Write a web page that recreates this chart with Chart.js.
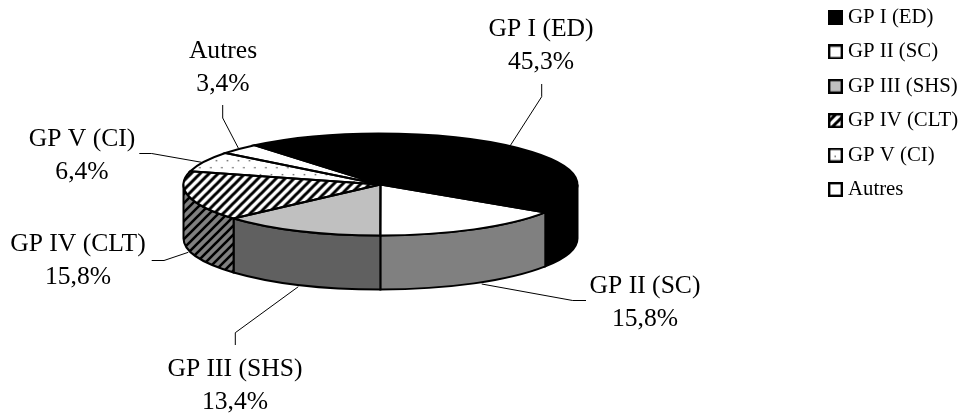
<!DOCTYPE html>
<html>
<head>
<meta charset="utf-8">
<style>
html, body { margin: 0; padding: 0; background: #fff; }
canvas { display: block; }
</style>
<script src="https://cdn.jsdelivr.net/npm/chart.js@4/dist/chart.umd.min.js"></script>
</head>
<body>
<canvas id="pieChart" width="964" height="414"></canvas>
<script>
var categories = ['GP I (ED)', 'GP II (SC)', 'GP III (SHS)', 'GP IV (CLT)', 'GP V (CI)', 'Autres'];
var shares = [45.3, 15.8, 13.4, 15.8, 6.4, 3.4];

// label centres and leader lines
var labelCentres = [[541, 29], [645, 286], [235, 369], [78, 244], [82, 139], [223, 51]];
var leaders = [
    [[541.7, 84], [541.7, 96.7], [510, 146]],
    [[586, 300.5], [572.7, 300.5], [481.7, 284]],
    [[235.3, 345], [235.3, 332.7], [298.3, 286.7]],
    [[151.7, 260.5], [164, 260.5], [188.3, 252.3]],
    [[139.3, 153.5], [151.7, 153.5], [201.7, 162.3]],
    [[222.7, 105], [222.7, 118], [238.3, 148]]
];

const PIE_X = 380.5, PIE_Y = 184.5, PIE_RX = 197, PIE_RY = 51, PIE_DEPTH = 54;
const SQUASH = PIE_RY / PIE_RX;
const FONT = '"Liberation Serif", "Times New Roman", serif';

function hatch(bg, fg, width, yScale) {
    var c = document.createElement('canvas');
    c.width = 9; c.height = 9;
    var x = c.getContext('2d');
    x.fillStyle = bg;
    x.fillRect(0, 0, 9, 9);
    x.strokeStyle = fg;
    x.lineWidth = width;
    x.beginPath();
    x.moveTo(-2, 2); x.lineTo(2, -2);
    x.moveTo(-1, 10); x.lineTo(10, -1);
    x.moveTo(7, 11); x.lineTo(11, 7);
    x.stroke();
    var p = x.createPattern(c, 'repeat');
    p.setTransform(new DOMMatrix().scale(1, yScale));
    return p;
}

function dots(yScale, w, h) {
    var c = document.createElement('canvas');
    c.width = w; c.height = h;
    var x = c.getContext('2d');
    x.fillStyle = '#fff';
    x.fillRect(0, 0, w, h);
    x.fillStyle = '#555';
    x.fillRect(1, 1, 1.4, 1.4);
    x.fillRect(1 + w / 2, 1 + h / 2, 1.4, 1.4);
    var p = x.createPattern(c, 'repeat');
    p.setTransform(new DOMMatrix().scale(1, yScale));
    return p;
}

var topColors = ['#000000', '#ffffff', '#c0c0c0', hatch('#fff', '#000', 3, 1 / SQUASH), dots(1 / SQUASH, 11, 14), '#ffffff'];
var sideColors = ['#000000', '#808080', '#606060', hatch('#808080', '#000', 2.6, 1), '#ffffff', '#ffffff'];
var legendColors = ['#000000', '#ffffff', '#c0c0c0', hatch('#fff', '#000', 3, 1), dots(1, 11, 14), '#ffffff'];

// legend swatch: 15px square with a thick frame
function swatch(fill) {
    var c = document.createElement('canvas');
    c.width = 15; c.height = 15;
    var x = c.getContext('2d');
    x.fillStyle = fill;
    x.fillRect(1, 1, 13, 13);
    x.strokeStyle = '#000';
    x.lineWidth = 2.4;
    x.strokeRect(1.2, 1.2, 12.6, 12.6);
    return c;
}

var pie3d = {
    id: 'pie3d',
    afterLayout: function (chart) {
        // legend goes in the corner, not where the layout box puts it
        chart.legend.left = 819.8;
        chart.legend.top = -6.5;
    },
    beforeDatasetDraw: function (chart) {
        var ctx = chart.ctx;
        var arcs = chart.getDatasetMeta(0).data;
        ctx.save();
        ctx.lineWidth = 2;
        ctx.strokeStyle = '#000';
        arcs.forEach(function (arc, i) {
            var a0 = Math.max(arc.startAngle, 0);
            var a1 = Math.min(arc.endAngle, Math.PI);
            if (a1 <= a0) return;
            ctx.beginPath();
            ctx.ellipse(PIE_X, PIE_Y, PIE_RX, PIE_RY, 0, a0, a1);
            ctx.ellipse(PIE_X, PIE_Y + PIE_DEPTH, PIE_RX, PIE_RY, 0, a1, a0, true);
            ctx.closePath();
            ctx.fillStyle = sideColors[i];
            ctx.fill();
            ctx.stroke();
        });
        ctx.restore();
        ctx.save();
        ctx.translate(PIE_X, PIE_Y);
        ctx.scale(1, SQUASH);
        ctx.translate(-arcs[0].x, -arcs[0].y);
    },
    afterDatasetDraw: function (chart) {
        var ctx = chart.ctx;
        ctx.restore();
        ctx.save();
        ctx.lineWidth = 2;
        ctx.strokeStyle = '#000';
        chart.getDatasetMeta(0).data.forEach(function (arc) {
            ctx.beginPath();
            ctx.moveTo(PIE_X, PIE_Y);
            ctx.ellipse(PIE_X, PIE_Y, PIE_RX, PIE_RY, 0, arc.startAngle, arc.endAngle);
            ctx.closePath();
            ctx.stroke();
        });
        ctx.restore();
    },
    afterDraw: function (chart) {
        var ctx = chart.ctx;
        ctx.save();
        ctx.strokeStyle = '#000';
        ctx.lineWidth = 1;
        leaders.forEach(function (pts) {
            ctx.beginPath();
            ctx.moveTo(pts[0][0], pts[0][1]);
            ctx.lineTo(pts[1][0], pts[1][1]);
            ctx.lineTo(pts[2][0], pts[2][1]);
            ctx.stroke();
        });
        ctx.fillStyle = '#000';
        ctx.font = '25.6px ' + FONT;
        ctx.textAlign = 'center';
        ctx.textBaseline = 'middle';
        for (var i = 0; i < categories.length; i++) {
            ctx.fillText(categories[i], labelCentres[i][0], labelCentres[i][1]);
            ctx.fillText(String(shares[i]).replace('.', ',') + '%', labelCentres[i][0], labelCentres[i][1] + 33);
        }
        ctx.restore();
    }
};

const CHART = document.getElementById('pieChart');
var pieChart = new Chart(CHART, {
    type: 'pie',
    data: {
        labels: categories,
        datasets: [{
            data: shares,
            backgroundColor: topColors,
            borderWidth: 0,
            clip: false
        }]
    },
    options: {
        responsive: false,
        animation: false,
        events: [],
        radius: PIE_RX,
        rotation: -39.7,
        plugins: {
            tooltip: { enabled: false },
            legend: {
                position: 'right',
                align: 'start',
                labels: {
                    usePointStyle: true,
                    pointStyleWidth: 4.2,
                    boxHeight: 13,
                    padding: 13.6,
                    color: '#000',
                    font: { family: FONT, size: 20.8 },
                    generateLabels: function () {
                        return categories.map(function (name, i) {
                            return { text: name, pointStyle: swatch(legendColors[i]), index: i };
                        });
                    }
                }
            }
        }
    },
    plugins: [pie3d]
});
</script>
</body>
</html>
